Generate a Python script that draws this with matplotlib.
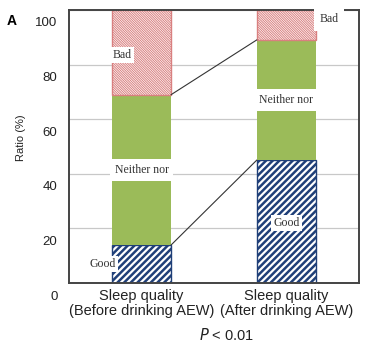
import numpy as np
import matplotlib.pyplot as plt
from matplotlib.transforms import ScaledTranslation

# dados (%)
grupos = ['Sleep quality\n(Before drinking AEW)', 'Sleep quality\n(After drinking AEW)']
good = [14, 45]
neither = [55, 44]
bad = [31, 11]

fig = plt.figure(figsize=(3.88, 3.53), dpi=100)
ax = fig.add_axes([0.178, 0.198, 0.747, 0.774])

x = np.arange(len(grupos))
w = 0.41
good = np.array(good)
neither = np.array(neither)
bad = np.array(bad)

ax.set_axisbelow(True)
ax.yaxis.grid(True, color='#c8c8c8', lw=0.9)

plt.rcParams['hatch.linewidth'] = 1.8
ax.bar(x, good, w, color='white', edgecolor='#1f3f78', hatch='/////', lw=1.0)
ax.bar(x, neither, w, bottom=good, color='#9bbb59', lw=0)
plt.rcParams['hatch.linewidth'] = 0.7
ax.bar(x, bad, w, bottom=good + neither, color='white', edgecolor='#d98080',
       hatch='\\' * 14, lw=1.0)

# linhas ligando as barras
ax.plot([x[0] + w / 2, x[1] - w / 2], [good[0], good[1]], color='#333333', lw=0.8)
ax.plot([x[0] + w / 2, x[1] - w / 2], [good[0] + neither[0], good[1] + neither[1]],
        color='#333333', lw=0.8)

caixa = dict(facecolor='white', edgecolor='none', pad=1.5)
fs = 8.5
ff = 'Liberation Serif'
ax.text(x[0] - 0.2, 83.5, 'Bad', ha='left', va='center', fontsize=fs, family=ff,
        color='#333333', bbox=caixa)
ax.text(x[0], 41.5, 'Neither nor', ha='center', va='center', fontsize=fs, family=ff,
        color='#333333', bbox=dict(facecolor='white', edgecolor='none', pad=3.5))
ax.text(x[0] - 0.27, 7, 'Good', ha='center', va='center', fontsize=fs, family=ff,
        color='#333333', bbox=caixa)
ax.text(x[1], 22, 'Good', ha='center', va='center', fontsize=fs, family=ff,
        color='#333333', bbox=caixa)
ax.text(x[1], 67, 'Neither nor', ha='center', va='center', fontsize=fs, family=ff,
        color='#333333', bbox=dict(facecolor='white', edgecolor='none', pad=3.5))
ax.text(x[1] + 0.23, 96.5, 'Bad', ha='left', va='center', fontsize=fs, family=ff,
        color='#333333', bbox=dict(facecolor='white', edgecolor='none', pad=4))

ax.set_xlim(-0.5, 1.5)
ax.set_ylim(0, 100)
ax.set_yticks(np.arange(0, 101, 20))
ax.set_xticks(x)
ax.set_xticklabels(grupos, fontsize=10.5, family='Liberation Sans', color='#222222',
                   linespacing=1.15)
ax.tick_params(axis='both', length=0)
ax.tick_params(axis='y', labelsize=9.5, pad=12)
ax.tick_params(axis='x', pad=4)
for lab in ax.get_yticklabels():
    lab.set_family('Liberation Sans')
    lab.set_color('#222222')
    lab.set_transform(lab.get_transform()
                      + ScaledTranslation(0.05, -12 / 100, fig.dpi_scale_trans))

for s in ax.spines.values():
    s.set_color('#444444')
    s.set_linewidth(1.4)

fig.text(0.055, 0.61, 'Ratio (%)', rotation=90, ha='center', va='center', fontsize=8,
         family='Liberation Sans', color='#222222')
fig.text(0.03, 0.94, 'A', ha='center', va='center', fontsize=10, weight='bold',
         family='Liberation Sans')
fig.text(0.585, 0.052, r'$\it{P}$ < 0.01', ha='center', va='center', fontsize=10.5,
         family='Liberation Sans', color='#222222')

plt.savefig('out.png', dpi=100)
